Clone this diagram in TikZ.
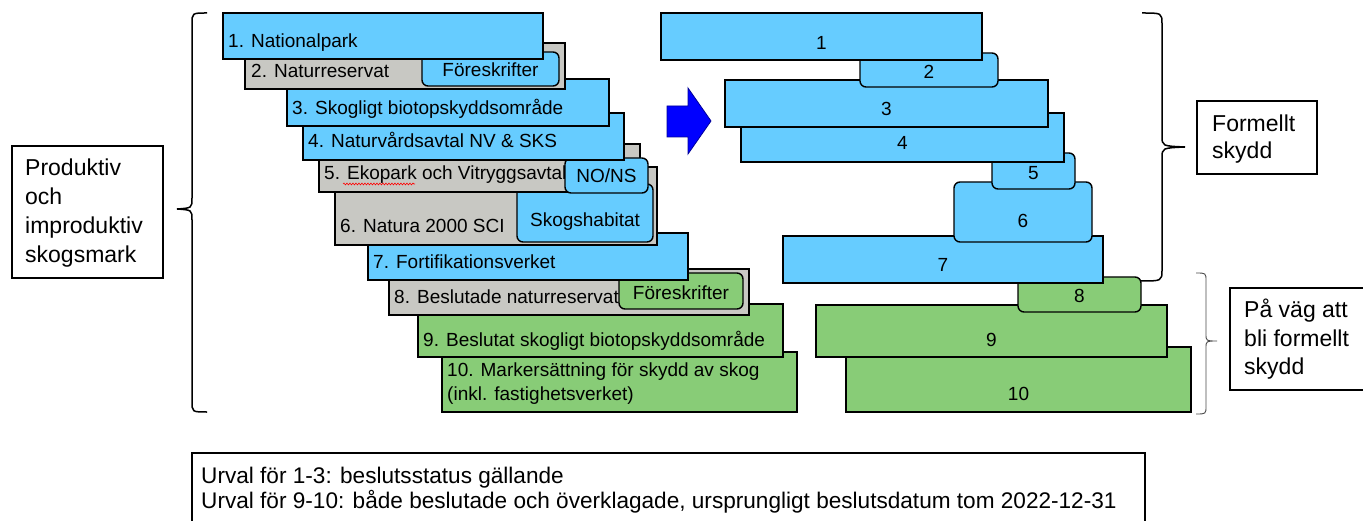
\documentclass[tikz,border=0pt]{standalone}
\usepackage{fontspec}
\setmainfont{Liberation Sans}
\usetikzlibrary{decorations.pathmorphing}
\definecolor{cblue}{RGB}{102,204,255}
\definecolor{cgray}{RGB}{200,200,195}
\definecolor{cgreen}{RGB}{136,204,119}
\definecolor{carrow}{RGB}{0,0,255}
\newcommand\mkbox[6]{\node[#6, anchor=north west, minimum width={(#4)-(#2)}, minimum height={(#5)-(#3)}] (#1) at (#2,#3) {};}
\tikzset{
  bx/.style={draw=black, line width=1.8pt, inner sep=0pt, outer sep=0pt},
  rbx/.style={draw=black, line width=1.4pt, rounded corners=6pt, inner sep=0pt, outer sep=0pt},
  lbl/.style={font=\fontsize{19}{23}\selectfont, inner sep=0pt, anchor=base west},
  num/.style={font=\fontsize{19}{23}\selectfont, inner sep=0pt, anchor=base},
  side/.style={font=\fontsize{23}{27}\selectfont, inner sep=0pt, anchor=base west},
  note/.style={font=\fontsize{22.6}{26}\selectfont, inner sep=0pt, anchor=base west},
  tbox/.style={draw=black, line width=1.2pt, fill=white, inner sep=0pt, outer sep=0pt},
  bracepath/.style={draw=black, line width=1.5pt},
  thinbrace/.style={draw=black!70, line width=0.9pt},
}
\begin{document}
\begin{tikzpicture}[x=1pt,y=-1pt]
\useasboundingbox (0,0) rectangle (1363,521);
\clip (0,0) rectangle (1363,521);
\fill[white] (0,0) rectangle (1363,521);

% ---------- left stack (drawn bottom-up) ----------
\mkbox{b10}{442}{352}{797}{412}{bx, fill=cgreen}
\node[lbl] (t10a) at (447,377) {10. Markersättning för skydd av skog};
\node[lbl] (t10b) at (447,400) {(inkl. fastighetsverket)};
\mkbox{b9}{418}{304}{783}{357}{bx, fill=cgreen}
\node[lbl] (t9) at (423,347) {9. Beslutat skogligt biotopskyddsområde};
\mkbox{b8}{389}{269}{749}{315}{bx, fill=cgray}
\node[lbl] (t8) at (394,304) {8. Beslutade naturreservat};
\mkbox{s8}{619}{273}{743}{309}{rbx, fill=cgreen}
\node[num] (u8) at (681,300) {Föreskrifter};
\mkbox{b7}{368}{233}{688}{280}{bx, fill=cblue}
\node[lbl] (t7) at (373,269) {7. Fortifikationsverket};
\mkbox{b6}{335}{167}{657}{245}{bx, fill=cgray}
\node[lbl] (t6) at (340,233) {6. Natura 2000 SCI};
\mkbox{s6}{517}{184}{653}{242}{rbx, fill=cblue}
\node[num] (u6) at (585,227) {Skogshabitat};
\mkbox{b5}{319}{144}{640}{192}{bx, fill=cgray}
\node[lbl] (t5) at (324,180) {5. Ekopark och Vitryggsavtal};
\draw[red, line width=0.6pt, decorate, decoration={snake, amplitude=0.9pt, segment length=3pt}] (343,184) -- (415,184);
\mkbox{s5}{565}{158}{648}{193}{rbx, fill=cblue}
\node[num] (u5) at (606.5,183) {NO/NS};
\mkbox{b4}{303}{113}{624}{160}{bx, fill=cblue}
\node[lbl] (t4) at (308,148) {4. Naturvårdsavtal NV \& SKS};
\mkbox{b3}{287}{79}{609}{126}{bx, fill=cblue}
\node[lbl] (t3) at (292,115) {3. Skogligt biotopskyddsområde};
\mkbox{b2}{245}{43}{565}{89}{bx, fill=cgray}
\node[lbl] (t2) at (251,78) {2. Naturreservat};
\mkbox{s2}{422}{52}{559}{86}{rbx, fill=cblue}
\node[num] (u2) at (490.5,77) {Föreskrifter};
\mkbox{b1}{223}{13}{543}{59}{bx, fill=cblue}
\node[lbl] (t1) at (228,48) {1. Nationalpark};

% ---------- arrow ----------
\filldraw[fill=carrow, draw=blue!60!black, line width=0.8pt]
  (667,106) -- (688,106) -- (688,88) -- (711,121) -- (688,154) -- (688,137) -- (667,137) -- cycle;

% ---------- right stack ----------
\mkbox{r10}{846}{347}{1191}{412}{bx, fill=cgreen}
\node[num] (n10) at (1018.5,400) {10};
\mkbox{r9}{816}{305}{1167}{357}{bx, fill=cgreen}
\node[num] (n9) at (991.5,346) {9};
\mkbox{r8}{1018}{277}{1141}{312}{rbx, fill=cgreen}
\node[num] (n8) at (1079.5,303) {8};
\mkbox{r7}{783}{236}{1103}{283}{bx, fill=cblue}
\node[num] (n7) at (943,272) {7};
\mkbox{r6}{954}{182}{1092}{242}{rbx, fill=cblue}
\node[num] (n6) at (1023,228) {6};
\mkbox{r5}{992}{153}{1075}{189}{rbx, fill=cblue}
\node[num] (n5) at (1033.5,180) {5};
\mkbox{r4}{741}{113}{1064}{162}{bx, fill=cblue}
\node[num] (n4) at (902.5,150) {4};
\mkbox{r3}{725}{80}{1048}{127}{bx, fill=cblue}
\node[num] (n3) at (886.5,116) {3};
\mkbox{r2}{860}{53}{998}{87}{rbx, fill=cblue}
\node[num] (n2) at (929,79) {2};
\mkbox{r1}{661}{13}{982}{60}{bx, fill=cblue}
\node[num] (n1) at (821.5,50) {1};

% ---------- braces ----------
\draw[bracepath] (207,13) .. controls (192,13) .. (192,24) -- (192,198)
  .. controls (192,208) .. (177,209) .. controls (192,210) .. (192,220)
  -- (192,401) .. controls (192,412) .. (207,412);
\draw[bracepath] (1142,13) .. controls (1162,13) .. (1162,24) -- (1162,136)
  .. controls (1162,146) .. (1185,147) .. controls (1162,148) .. (1162,158)
  -- (1162,270) .. controls (1162,281) .. (1140,281);
\draw[thinbrace] (1196,273) .. controls (1206,273) .. (1206,281) -- (1206,334)
  .. controls (1206,341) .. (1217,341) .. controls (1206,341) .. (1206,348)
  -- (1206,406) .. controls (1206,414) .. (1196,414);

% ---------- text boxes ----------
\mkbox{lb}{12}{146}{163}{278}{tbox}
\node[side] (lb1) at (25,176) {Produktiv};
\node[side] (lb2) at (25,205) {och};
\node[side] (lb3) at (25,234) {improduktiv};
\node[side] (lb4) at (25,263) {skogsmark};

\mkbox{fb}{1197}{101}{1317}{174}{tbox}
\node[side] (fb1) at (1212,132) {Formellt};
\node[side] (fb2) at (1212,159) {skydd};

\mkbox{pb}{1230}{288}{1390}{390}{tbox}
\node[side] (pb1) at (1244,318) {På väg att};
\node[side] (pb2) at (1244,346) {bli formellt};
\node[side] (pb3) at (1244,374) {skydd};

\mkbox{nb}{192}{453}{1145}{540}{tbox}
\node[note] (nb1) at (201,483) {Urval för 1-3: beslutsstatus gällande};
\node[note] (nb2) at (201,508) {Urval för 9-10: både beslutade och överklagade, ursprungligt beslutsdatum tom 2022-12-31};
\end{tikzpicture}
\end{document}
